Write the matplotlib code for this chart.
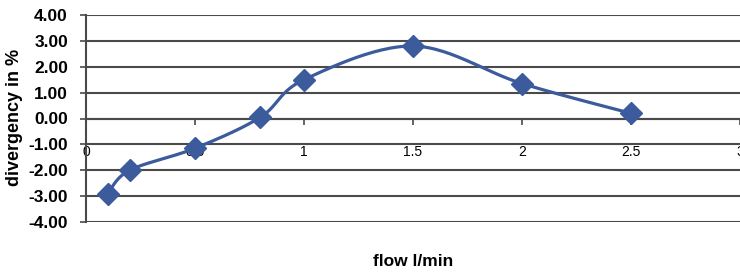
import matplotlib
matplotlib.use('Agg')
import matplotlib.pyplot as plt
import numpy as np

# valores
flow = [0.1, 0.2, 0.5, 0.8, 1.0, 1.5, 2.0, 2.5]
divergency = [-2.9, -2.0, -1.15, 0.05, 1.5, 2.8, 1.35, 0.2]
xticks = [0, 0.5, 1, 1.5, 2, 2.5, 3]
xtick_labels = ['0', '0.5', '1', '1.5', '2', '2.5', '3']
yticks = [-4, -3, -2, -1, 0, 1, 2, 3, 4]

color_linea = '#3b5b9c'
color_grid = '#4a4a4a'


def suavizar(x, y, n=30):
    # curva tipo Excel (Catmull-Rom con bezier cubica)
    p = np.column_stack([x, y])
    p_ext = np.vstack([p[0], p, p[-1]])
    pts = []
    t = np.linspace(0, 1, n)
    for i in range(1, len(p_ext) - 2):
        p0, p1, p2, p3 = p_ext[i - 1], p_ext[i], p_ext[i + 1], p_ext[i + 2]
        c1 = p1 + (p2 - p0) / 6
        c2 = p2 - (p3 - p1) / 6
        seg = ((1 - t)**3)[:, None] * p1 + (3 * (1 - t)**2 * t)[:, None] * c1 \
            + (3 * (1 - t) * t**2)[:, None] * c2 + (t**3)[:, None] * p2
        pts.append(seg)
    pts = np.vstack(pts)
    return pts[:, 0], pts[:, 1]


plt.rcParams['font.family'] = ['Liberation Sans', 'DejaVu Sans']

fig = plt.figure(figsize=(7.4, 2.72), dpi=100)
ax = fig.add_axes([86 / 740, 1 - 222 / 272, 1 - 86 / 740, 207 / 272])

xs, ys = suavizar(flow, divergency)
ax.plot(xs, ys, color=color_linea, linewidth=2.3, zorder=3)
ax.plot(flow, divergency, linestyle='none', marker='D', markersize=11,
        color=color_linea, zorder=4, clip_on=False)

ax.set_xlim(0, 3)
ax.set_ylim(-4, 4)
ax.set_yticks(yticks)
ax.set_yticklabels(['%.2f' % v for v in yticks], fontsize=12.5, fontweight='bold')
ax.set_xticks(xticks)
ax.set_xticklabels(xtick_labels, fontsize=12.5)

ax.grid(axis='y', color=color_grid, linewidth=1.5)
ax.set_axisbelow(True)

for lado in ['top', 'right']:
    ax.spines[lado].set_visible(False)
ax.spines['left'].set_color(color_grid)
ax.spines['left'].set_linewidth(1.5)
ax.spines['bottom'].set_position(('data', 0))
ax.spines['bottom'].set_color(color_grid)
ax.spines['bottom'].set_linewidth(1.5)

ax.tick_params(axis='y', length=4, color=color_grid, width=1.2, pad=9)
ax.tick_params(axis='x', length=4, color=color_grid, width=1.2, pad=15)

fig.text(15 / 740, 1 - 117 / 272, 'divergency in %', fontsize=13, fontweight='bold',
         rotation=90, ha='center', va='center')
fig.text(413 / 740, 1 - 262 / 272, 'flow l/min', fontsize=12.5, fontweight='bold',
         ha='center', va='center')

plt.savefig('out.png', dpi=100)
